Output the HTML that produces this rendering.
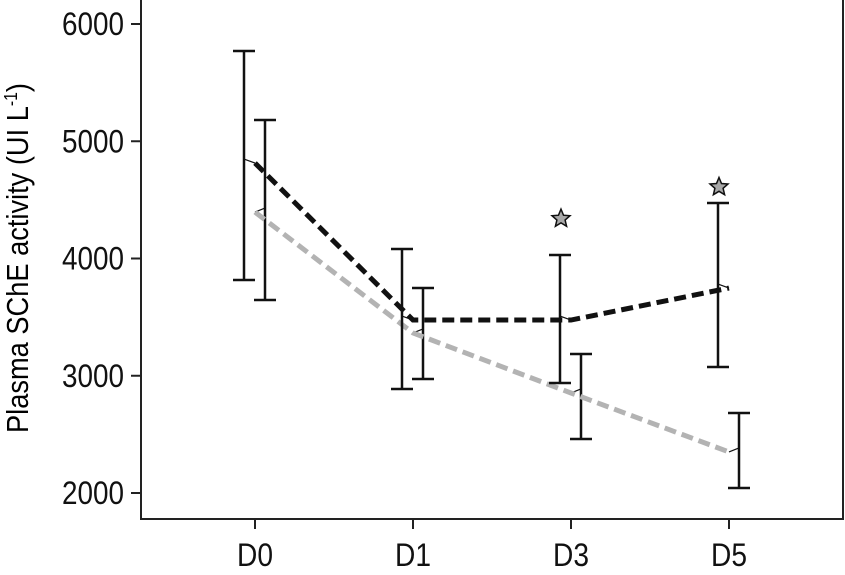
<!DOCTYPE html>
<html><head><meta charset="utf-8"><style>
html,body{margin:0;padding:0;background:#fff;}
svg{display:block;font-family:"Liberation Sans",sans-serif;}
</style></head><body>
<svg id="chart" width="845" height="575" viewBox="0 0 845 575" xmlns="http://www.w3.org/2000/svg">
<g id="axes"></g>
<g id="plot"></g>
<text transform="translate(28,258) rotate(-90)" text-anchor="middle" font-size="31" textLength="350" lengthAdjust="spacingAndGlyphs">Plasma SChE activity (UI L<tspan font-size="18" dy="-11">-1</tspan><tspan dy="11">)</tspan></text>
</svg>
<script>
const categories = ["D0","D1","D3","D5"];
const yTicks = [2000,3000,4000,5000,6000];
const blackMean = [4814,3475,3475,3748];
const blackHigh = [5770,4081,4030,4473];
const blackLow = [3817,2887,2938,3075];
const grayMean = [4396,3365,2853,2350];
const grayHigh = [5181,3748,3185,2682];
const grayLow = [3646,2972,2461,2043];
const starValue = [null,null,4340,4610];

const NS="http://www.w3.org/2000/svg";
const L=141,R=843,T=0,B=519;
const x=i=>255+i*158;
const y=v=>493-(v-2000)*0.11725;
function mk(tag,attrs,parent){const e=document.createElementNS(NS,tag);for(const k in attrs)e.setAttribute(k,attrs[k]);parent.appendChild(e);return e;}
const axes=document.getElementById('axes'), plot=document.getElementById('plot');

const frame=mk('rect',{x:L,y:T-2,width:R-L,height:B-T+2,fill:'none',stroke:'#222','stroke-width':2},axes);



yTicks.forEach(v=>{
  const t=mk('line',{x1:L-10,x2:L,y1:y(v),y2:y(v),stroke:'#222','stroke-width':2},axes);
  
  
  const lb=mk('text',{x:L-17,y:y(v)+11,'text-anchor':'end','font-size':32,textLength:62,lengthAdjust:'spacingAndGlyphs',fill:'#111'},axes);
  lb.textContent=v;
  
  
});
categories.forEach((c,i)=>{
  const t=mk('line',{x1:x(i),x2:x(i),y1:B,y2:B+10,stroke:'#222','stroke-width':2},axes);
  
  
  const lb=mk('text',{x:x(i),y:B+47,'text-anchor':'middle','font-size':32,textLength:36,lengthAdjust:'spacingAndGlyphs',fill:'#111'},axes);
  lb.textContent=c;
  
  
});

function series(mean,hi,lo,color,off,name){
  mean.forEach((m,i)=>{
    const bx=x(i)+off;
    const g=mk('g',{stroke:'#111','stroke-width':2.5,fill:'none'},plot);
    
    
    mk('line',{x1:bx,x2:bx,y1:y(hi[i]),y2:y(lo[i])},g);
    mk('line',{x1:bx-11,x2:bx+11,y1:y(hi[i]),y2:y(hi[i])},g);
    mk('line',{x1:bx-11,x2:bx+11,y1:y(lo[i]),y2:y(lo[i])},g);
    mk('line',{x1:bx,x2:x(i),y1:y(m)-4,y2:y(m),'stroke-width':1.2},g);
  });
  const p=mk('polyline',{points:mean.map((m,i)=>x(i)+','+y(m)).join(' '),fill:'none',stroke:color,'stroke-width':5,'stroke-dasharray':'12 6'},plot);
  
  
}
series(grayMean,grayHigh,grayLow,'#b3b3b3',10,'group-gray');
series(blackMean,blackHigh,blackLow,'#111',-11,'group-black');

function star(cx,cy,r){let pts=[];for(let k=0;k<10;k++){const a=-Math.PI/2+k*Math.PI/5;const rr=k%2?r*0.45:r;pts.push((cx+rr*Math.cos(a)).toFixed(1)+','+(cy+rr*Math.sin(a)).toFixed(1));}return pts.join(' ');}
starValue.forEach((s,i)=>{
  if(s===null)return;
  const st=mk('polygon',{points:star(x(i)-10,y(s),9.5),fill:'#a8a8a8',stroke:'#111','stroke-width':1.5},plot);
  
  
});
</script>
</body></html>
